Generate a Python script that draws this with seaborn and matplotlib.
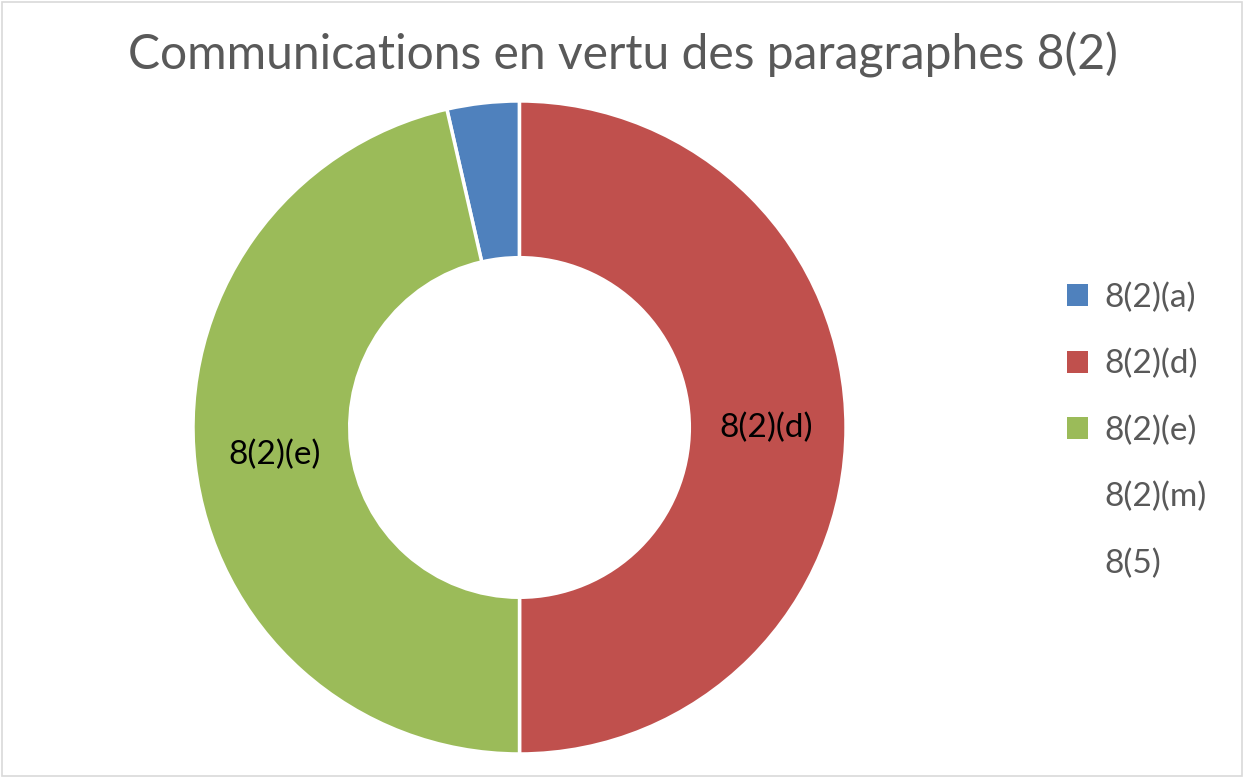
# Donut chart of communications by paragraph 8(2)
import numpy as np
import matplotlib.pyplot as plt
import matplotlib.patches as mpatches
import seaborn as sns

## DATA ##
categories = ['8(2)(a)', '8(2)(d)', '8(2)(e)', '8(2)(m)', '8(5)']
counts = [1, 14, 13, 0, 0]
colours = ['#4F81BD', '#C0504D', '#9BBB59', '#8064A2', '#4BACC6']

## STYLE ##
sns.set_theme(style='white')
plt.rcParams['font.family'] = ['Lato', 'DejaVu Sans']

fig = plt.figure(figsize=(12.46, 7.79), dpi=100)
ax = fig.add_axes([0.1549, 0.0321, 0.5241, 0.8383])

# only slices with a value get drawn, the legend keeps all categories
shown = [i for i, c in enumerate(counts) if c > 0]
total = sum(counts)
# first slice sits just left of the top, the second one starts at 12 o'clock
start = 90 + 360 * counts[0] / total
wedges, texts = ax.pie([counts[i] for i in shown],
                       colors=[colours[i] for i in shown],
                       labels=[categories[i] if counts[i] > 1 else '' for i in shown],
                       labeldistance=0.755, startangle=start, counterclock=False,
                       radius=1,
                       wedgeprops=dict(width=0.48, edgecolor='white', linewidth=2.5),
                       textprops=dict(fontsize=24, color='black', ha='center', va='center'))
ax.set_xlim(-1, 1)
ax.set_ylim(-1, 1)
ax.set_aspect('equal')
ax.axis('off')

# Title
fig.text(0.5, 0.929, 'Communications en vertu des paragraphes 8(2)',
         ha='center', va='center', fontsize=34.6, color='#595959')

# Legend, zero categories have no visible marker
handles = []
for i, cat in enumerate(categories):
    if counts[i] > 0:
        handles.append(mpatches.Patch(facecolor=colours[i], edgecolor='none', label=cat))
    else:
        handles.append(mpatches.Patch(facecolor='none', edgecolor='none', label=cat))
fig.legend(handles=handles, loc='center left', bbox_to_anchor=(0.832, 0.447),
           frameon=False, fontsize=24, labelspacing=1.08, handlelength=0.63,
           handleheight=0.63, handletextpad=0.51, labelcolor='#595959')

# light border around the chart area
fig.patches.append(mpatches.Rectangle((0.002, 0.004), 0.995, 0.993, transform=fig.transFigure,
                                      fill=False, edgecolor='#D9D9D9', linewidth=1.2))

plt.savefig('out.png', dpi=100)
